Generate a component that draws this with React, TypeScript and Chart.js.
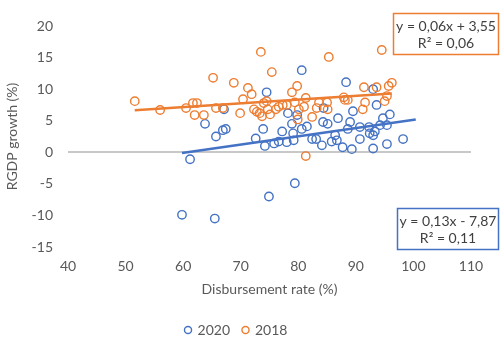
import { useEffect, useRef } from "react";
import { Chart, registerables } from "chart.js";
Chart.register(...registerables);

const FONT = "Lato, 'Open Sans', sans-serif";
const BLUE = "#4472C4";
const ORANGE = "#ED7D31";
const TXT = "#595959";

const series = ["2020", "2018"];
const x2020 = [59.8, 61.2, 63.8, 65.7, 66.9, 67.4, 67.1, 65.5, 72.6, 73.9, 74.2, 74.5, 74.9, 75.8, 76.6, 77.2, 78.0, 78.2, 78.9, 79.1, 79.2, 79.8, 79.4, 80.6, 80.6, 81.5, 82.4, 83.1, 84.1, 84.3, 84.4, 85.1, 85.8, 86.4, 86.7, 86.9, 87.7, 88.3, 88.6, 89.0, 89.3, 89.5, 90.7, 90.7, 92.3, 92.4, 93.0, 93.0, 93.0, 93.3, 93.6, 94.2, 94.7, 95.4, 95.4, 95.9, 98.2, 100.4];
const y2020 = [-9.9, -1.1, 4.5, 2.5, 3.5, 3.7, 6.8, -10.5, 2.2, 3.7, 1.0, 9.5, -7.0, 1.4, 1.7, 3.3, 1.6, 6.2, 4.5, 3.0, 1.9, 5.9, -4.9, 13.0, 3.7, 4.1, 2.1, 2.1, 1.1, 4.8, 7.0, 4.5, 1.7, 2.7, 1.9, 5.4, 0.8, 11.1, 3.7, 4.8, 0.5, 6.5, 2.1, 4.0, 4.0, 3.0, 2.7, 0.6, 10.0, 3.3, 7.5, 4.3, 5.4, 1.3, 4.3, 6.0, 2.1, -12.0];
const x2018 = [51.6, 56.0, 60.5, 61.7, 62.4, 62.0, 63.6, 65.2, 65.7, 66.9, 68.8, 69.9, 70.4, 71.25, 71.9, 72.3, 72.8, 73.3, 73.7, 73.5, 74.0, 74.5, 74.7, 75.1, 75.4, 76.1, 76.6, 77.3, 78.0, 78.9, 79.4, 79.8, 80.1, 79.9, 81.0, 81.3, 81.3, 82.4, 83.2, 83.6, 85.0, 85.1, 85.3, 87.9, 88.1, 88.6, 91.2, 91.4, 91.6, 93.6, 94.5, 95.0, 95.4, 95.7, 96.25];
const y2018 = [8.1, 6.7, 7.0, 7.8, 7.8, 5.9, 5.9, 11.8, 7.0, 7.0, 11.0, 6.2, 8.4, 10.2, 9.2, 6.8, 6.4, 6.2, 5.7, 15.9, 7.8, 8.1, 6.8, 6.0, 12.7, 6.8, 7.2, 7.5, 7.5, 9.5, 7.9, 10.5, 6.8, 5.2, 7.2, 8.6, -0.6, 5.6, 7.0, 7.9, 7.9, 6.8, 15.1, 8.7, 8.3, 8.3, 6.8, 10.3, 7.9, 10.3, 16.2, 8.1, 8.9, 10.5, 11.0];
const trend2020 = [0.13, -7.87];
const trend2018 = [0.06, 3.55];
const eq2020 = ["y = 0,13x - 7,87", "R² = 0,11"];
const eq2018 = ["y = 0,06x + 3,55", "R² = 0,06"];
const xTitle = "Disbursement rate (%)";
const yTitle = "RGDP growth (%)";

export default function App() {
  const ref = useRef<HTMLCanvasElement>(null);
  useEffect(() => {
    const pts = (xs: number[], ys: number[]) => xs.map((x, i) => ({ x, y: ys[i] }));
    const trend = (xs: number[], c: number[]) => {
      const lo = Math.min(...xs);
      const hi = Math.max(...xs);
      return [
        { x: lo, y: c[0] * lo + c[1] },
        { x: hi, y: c[0] * hi + c[1] },
      ];
    };
    const drawBox = (ctx: CanvasRenderingContext2D, l: number, t: number, w: number, h: number, color: string, lines: string[]) => {
      ctx.save();
      ctx.fillStyle = "#fff";
      ctx.fillRect(l, t, w, h);
      ctx.strokeStyle = color;
      ctx.lineWidth = 1.5;
      ctx.strokeRect(l, t, w, h);
      ctx.fillStyle = "#404040";
      ctx.font = `14px ${FONT}`;
      ctx.textAlign = "center";
      ctx.textBaseline = "middle";
      ctx.fillText(lines[0], l + w / 2, t + h * 0.32);
      ctx.fillText(lines[1], l + w / 2, t + h * 0.74);
      ctx.restore();
    };
    const eqPlugin = {
      id: "eqBoxes",
      afterDraw(chart: any) {
        const ctx = chart.ctx;
        drawBox(ctx, 393.5, 13.5, 105, 41, ORANGE, eq2018);
        drawBox(ctx, 397.5, 208.5, 101, 41, BLUE, eq2020);
      },
    };
    const font = { family: FONT, size: 14 };
    const chart = new Chart(ref.current!, {
      type: "scatter",
      data: {
        datasets: [
          { label: series[0], data: pts(x2020, y2020), borderColor: BLUE, backgroundColor: "rgba(0,0,0,0)", pointRadius: 4.2, pointBorderWidth: 1.4, borderWidth: 1.4, order: 3 },
          { label: series[1], data: pts(x2018, y2018), borderColor: ORANGE, backgroundColor: "rgba(0,0,0,0)", pointRadius: 4.2, pointBorderWidth: 1.4, borderWidth: 1.4, order: 2 },
          { type: "line", label: "t2020", data: trend(x2020, trend2020), borderColor: BLUE, borderWidth: 2.5, pointRadius: 0, fill: false, order: 1 },
          { type: "line", label: "t2018", data: trend(x2018, trend2018), borderColor: ORANGE, borderWidth: 2.5, pointRadius: 0, fill: false, order: 0 },
        ] as any,
      },
      options: {
        responsive: false,
        animation: false,
        layout: { padding: { top: 26, right: 33, left: 2, bottom: -6 } },
        plugins: {
          legend: {
            position: "bottom",
            labels: {
              filter: (item: any) => item.datasetIndex < 2,
              sort: (a: any, b: any) => a.datasetIndex - b.datasetIndex,
              usePointStyle: true,
              pointStyle: "circle",
              boxWidth: 5,
              boxHeight: 5,
              color: TXT,
              font,
              padding: 13,
            },
          },
          tooltip: { enabled: false },
        },
        scales: {
          x: {
            type: "linear",
            min: 40,
            max: 110,
            afterFit: (s: any) => { s.height = 63; },
            ticks: { stepSize: 10, color: TXT, font, padding: 11 },
            grid: { display: false, drawTicks: false },
            border: { display: false },
            title: { display: true, text: xTitle, color: TXT, font, padding: { top: 6, bottom: 12 } },
          },
          y: {
            min: -15,
            max: 20,
            afterFit: (s: any) => { s.width = 66; },
            ticks: { stepSize: 5, color: TXT, font, padding: 15 },
            grid: {
              color: (c: any) => (c.tick && c.tick.value === 0 ? "#C8C8C8" : "rgba(0,0,0,0)"),
              lineWidth: 2,
              drawTicks: false,
            },
            border: { display: false },
            title: { display: true, text: yTitle, color: TXT, font, padding: 2 },
          },
        },
      } as any,
      plugins: [eqPlugin],
    });
    return () => chart.destroy();
  }, []);
  return (
    <div style={{ position: "fixed", left: 0, top: 0, width: 504, height: 341, background: "#fff" }}>
      <canvas ref={ref} width={504} height={341} style={{ display: "block" }} />
    </div>
  );
}
